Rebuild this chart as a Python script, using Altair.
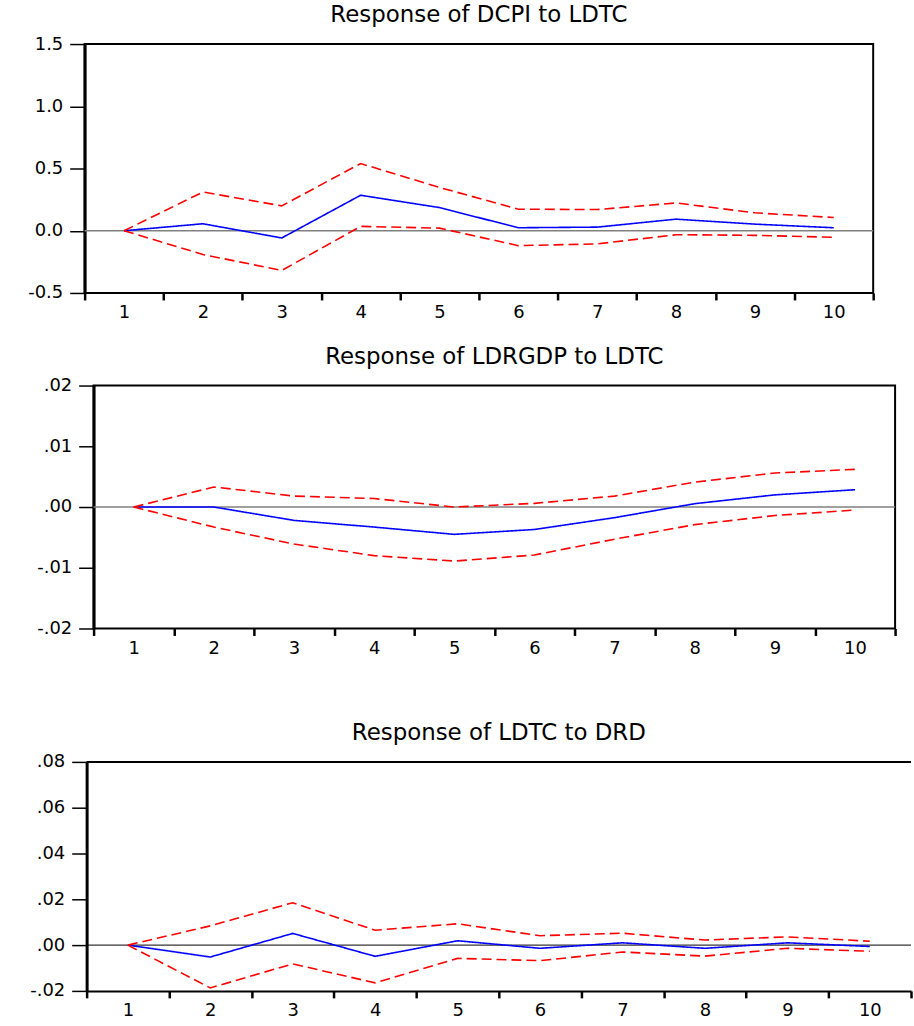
import altair as alt
import pandas as pd

periods = list(range(1, 11))

# Response of DCPI to LDTC
dcpi_resp = [0.0, 0.056, -0.058, 0.285, 0.186, 0.024, 0.029, 0.093, 0.053, 0.024]
dcpi_upper = [0.0, 0.311, 0.200, 0.540, 0.348, 0.173, 0.170, 0.223, 0.144, 0.106]
dcpi_lower = [0.0, -0.191, -0.319, 0.035, 0.021, -0.120, -0.106, -0.032, -0.037, -0.053]

# Response of LDRGDP to LDTC
gdp_resp = [0.0, 0.0, -0.0022, -0.0033, -0.0045, -0.0037, -0.00175, 0.00055, 0.0020, 0.00285]
gdp_upper = [0.0, 0.0033, 0.0018, 0.0014, 0.0, 0.0006, 0.0018, 0.0041, 0.0056, 0.0062]
gdp_lower = [0.0, -0.0033, -0.0061, -0.0080, -0.0089, -0.0079, -0.0053, -0.0029, -0.0014, -0.0005]

# Response of LDTC to DRD
drd_resp = [0.0, -0.0052, 0.0051, -0.0049, 0.0019, -0.0014, 0.0010, -0.0014, 0.0010, -0.0006]
drd_upper = [0.0, 0.0084, 0.0185, 0.0065, 0.0093, 0.0041, 0.0052, 0.0022, 0.0036, 0.0017]
drd_lower = [0.0, -0.0187, -0.0082, -0.0165, -0.0058, -0.0068, -0.0030, -0.0048, -0.0014, -0.0027]

titles = ["Response of DCPI to LDTC", "Response of LDRGDP to LDTC", "Response of LDTC to DRD"]
series_names = ["Response", "Upper", "Lower"]

FONT = "DejaVu Sans"
LABEL_SIZE = 18
YEXT = 81


def panel(title, resp, upper, lower, ydomain, yvalues, label_expr, width, height,
          zero_color, zero_width, xextent=None, frame=True):
    df = pd.DataFrame({
        "period": periods * 3,
        "value": resp + upper + lower,
        "series": ["Response"] * 10 + ["Upper"] * 10 + ["Lower"] * 10,
    })
    xaxis_kwargs = dict(
        title=None, tickBand="extent", labelAngle=0, domain=not frame,
        domainColor="black", domainWidth=2,
        ticks=True, tickSize=7, tickWidth=2.5, tickColor="black",
        labelFont=FONT, labelFontSize=LABEL_SIZE, labelColor="black", labelPadding=4,
        grid=False,
    )
    if xextent is not None:
        xaxis_kwargs["minExtent"] = xextent
    x = alt.X("period:O", axis=alt.Axis(**xaxis_kwargs),
              scale=alt.Scale(type="band", paddingInner=0, paddingOuter=0))
    y = alt.Y("value:Q",
              scale=alt.Scale(domain=ydomain, nice=False, zero=False),
              axis=alt.Axis(title=None, values=yvalues, labelExpr=label_expr,
                            tickSize=15, tickWidth=1.5, tickColor="black",
                            domain=True, domainColor="black", domainWidth=3,
                            grid=False, minExtent=YEXT, maxExtent=YEXT,
                            labelFont=FONT, labelFontSize=LABEL_SIZE, labelColor="black",
                            labelPadding=7))
    zero = alt.Chart(pd.DataFrame({"z": [0.0]})).mark_rule(
        color=zero_color, strokeWidth=zero_width).encode(y=alt.Y("z:Q"))
    lines = alt.Chart(df).mark_line(strokeWidth=1.6).encode(
        x=x,
        y=y,
        color=alt.Color("series:N", legend=None,
                        scale=alt.Scale(domain=series_names,
                                        range=["#0000ff", "#ff0000", "#ff0000"])),
        strokeDash=alt.StrokeDash("series:N", legend=None,
                                  scale=alt.Scale(domain=series_names,
                                                  range=[[1, 0], [10, 5], [10, 5]])),
    )
    layers = [zero, lines]
    if not frame:
        top = alt.Chart(pd.DataFrame({"t": [ydomain[1]]})).mark_rule(
            color="black", strokeWidth=2).encode(y=alt.Y("t:Q"))
        layers = [zero, top, lines]
    ch = alt.layer(*layers).properties(
        width=width, height=height,
        title=alt.TitleParams(title, offset=8, frame="group"),
    )
    if not frame:
        ch = ch.properties(view=alt.ViewBackground(stroke="transparent"))
    return ch


def spacer(w):
    return alt.Chart(pd.DataFrame({"s": [0]})).mark_rect(opacity=0).encode(
        x=alt.value(0), x2=alt.value(w), y=alt.value(0), y2=alt.value(10)
    ).properties(width=w, height=10, view=alt.ViewBackground(stroke="transparent"))


p1 = panel(titles[0], dcpi_resp, dcpi_upper, dcpi_lower, [-0.5, 1.5],
           [-0.5, 0.0, 0.5, 1.0, 1.5],
           "replace(format(datum.value, '.1f'), '\u2212', '-')",
           792, 250, "#808080", 1.5)
p2 = panel(titles[1], gdp_resp, gdp_upper, gdp_lower, [-0.02, 0.02],
           [-0.02, -0.01, 0.0, 0.01, 0.02],
           "replace(replace(format(datum.value, '.2f'), '0.', '.'), '\u2212', '-')",
           805, 244, "#808080", 1.5, xextent=70)
p3 = panel(titles[2], drd_resp, drd_upper, drd_lower, [-0.02, 0.08],
           [-0.02, 0.0, 0.02, 0.04, 0.06, 0.08],
           "replace(replace(format(datum.value, '.2f'), '0.', '.'), '\u2212', '-')",
           828, 230, "black", 1.0, frame=False)

rows = [alt.hconcat(spacer(w), p, spacing=0) for w, p in ((1, p1), (10, p2), (3, p3))]

chart = alt.vconcat(*rows, spacing=22).properties(
    padding={"left": 0, "top": 1, "right": 0, "bottom": 0},
    background="white",
).configure_view(stroke="black", strokeWidth=2).configure_title(
    font=FONT, fontSize=23, fontWeight="normal", color="black", anchor="middle"
)

chart.save("out.html", embed_options={"renderer": "svg", "actions": False})
